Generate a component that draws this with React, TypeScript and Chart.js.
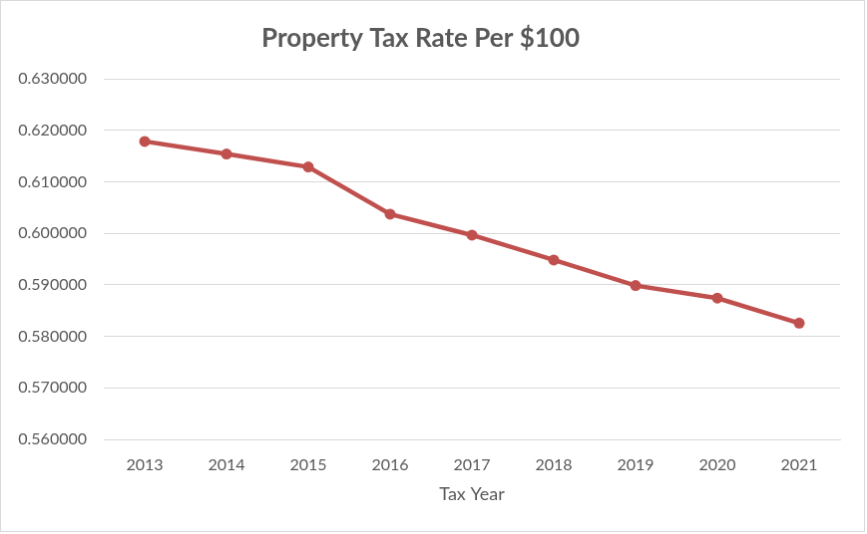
import React, { useEffect, useRef } from "react";
import { Chart, registerables } from "chart.js";

Chart.register(...registerables);

const titleText = "Property Tax Rate Per $100";
const xAxisTitle = "Tax Year";
const years = ["2013", "2014", "2015", "2016", "2017", "2018", "2019", "2020", "2021"];
const taxRates = [0.61787, 0.61542, 0.6129, 0.60373, 0.59967, 0.59484, 0.58987, 0.58743, 0.58257];
const yMin = 0.56;
const yMax = 0.63;
const yStep = 0.01;

const FONT = "Lato, 'Open Sans', sans-serif";
const TEXT = "#595959";
const GRID = "#d9d9d9";
const LINE = "#c0504d";

export default function App() {
  const ref = useRef<HTMLCanvasElement | null>(null);
  useEffect(() => {
    if (!ref.current) return;
    const chart = new Chart(ref.current, {
      type: "line",
      data: {
        labels: years,
        datasets: [
          {
            label: titleText,
            data: taxRates,
            borderColor: LINE,
            backgroundColor: LINE,
            borderWidth: 4.5,
            pointRadius: 5.5,
            pointBackgroundColor: LINE,
            pointBorderColor: LINE,
            pointBorderWidth: 0,
            tension: 0,
          },
        ],
      },
      options: {
        responsive: false,
        animation: false,
        layout: { padding: { left: 0, right: 24, top: 0, bottom: 0 } },
        plugins: {
          legend: { display: false },
          tooltip: { enabled: false },
          title: {
            display: true,
            text: titleText,
            color: TEXT,
            font: { family: FONT, size: 26, weight: "bold" },
            padding: { top: 22, bottom: 25 },
          },
        },
        scales: {
          x: {
            offset: true,
            grid: { display: false, drawTicks: false },
            border: { display: true, color: GRID, width: 1 },
            ticks: { color: TEXT, font: { family: FONT, size: 16 }, padding: 16, maxRotation: 0 },
            title: {
              display: true,
              text: xAxisTitle,
              color: TEXT,
              font: { family: FONT, size: 18 },
              padding: { top: 8, bottom: 26 },
            },
            afterFit: (s: any) => {
              s.height = 92;
            },
          },
          y: {
            min: yMin,
            max: yMax,
            grid: { color: GRID, lineWidth: 1, drawTicks: false },
            border: { display: false },
            ticks: {
              stepSize: yStep,
              color: TEXT,
              font: { family: FONT, size: 16 },
              padding: 17,
              callback: (v: any) => Number(v).toFixed(6),
            },
            afterFit: (s: any) => {
              s.width = 103;
            },
          },
        },
      },
    });
    return () => chart.destroy();
  }, []);
  return (
    <div style={{ position: "fixed", left: 0, top: 0, width: 867, height: 534, background: "#fff" }}>
      <canvas
        ref={ref}
        width={865}
        height={532}
        style={{ border: "1px solid #d9d9d9", display: "block" }}
      />
    </div>
  );
}
